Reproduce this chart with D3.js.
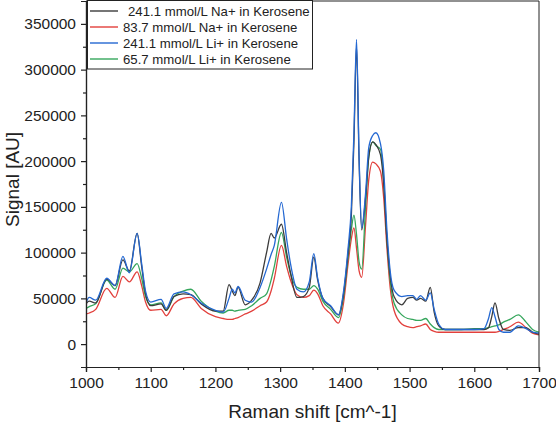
<!DOCTYPE html>
<html>
<head>
<meta charset="utf-8">
<script src="https://cdn.jsdelivr.net/npm/d3@7"></script>
<style>
  body { margin: 0; background: #fff; }
  svg { font-family: "Liberation Sans", Arial, sans-serif; }
  .tick text { fill: #222; }
</style>
</head>
<body>
<div id="main"></div>
<script>
// wavenumber grid shared by all four spectra
let shift = [1000, 1005, 1015, 1032, 1045, 1057, 1067, 1079, 1086, 1092, 1100, 1116, 1124, 1136, 1150, 1162, 1178, 1200, 1212,
  1221, 1226, 1230, 1235, 1246, 1256, 1269, 1279, 1286, 1291, 1302, 1310, 1316, 1326, 1336, 1345, 1352, 1358, 1366, 1378, 1390,
  1398, 1405, 1410, 1414, 1418, 1422, 1426, 1432, 1437, 1443, 1448, 1455, 1460, 1465, 1470, 1476, 1488, 1497, 1505, 1511, 1517,
  1525, 1532, 1538, 1545, 1555, 1580, 1600, 1615, 1622, 1627, 1632, 1638, 1645, 1655, 1668, 1680, 1690, 1700];

let na241 = [44000, 47000, 45000, 71000, 64000, 92000, 80000, 121000, 85000, 55000, 42000, 44000, 37000, 52000, 55000, 54000, 44000, 36000, 36000,
  65000, 58000, 53000, 62000, 43000, 48000, 67000, 100000, 121000, 116000, 131000, 100000, 78000, 51000, 52000, 62000, 95000, 70000, 50000, 41000, 32000,
  55000, 100000, 140000, 220000, 326000, 200000, 125000, 160000, 205000, 221000, 218000, 207000, 175000, 114000, 75000, 52000, 43000, 50000, 51000, 48000, 50000,
  47000, 62000, 35000, 20000, 16000, 16000, 16000, 16000, 18000, 30000, 45000, 28000, 16000, 15000, 18000, 18000, 13000, 11000];

let na83 = [33000, 34000, 38000, 61000, 51000, 74000, 68000, 79000, 64000, 46000, 37000, 38000, 31000, 44000, 50000, 51000, 39000, 30000, 28000,
  27000, 27000, 28000, 29000, 33000, 36000, 42000, 46000, 58000, 72000, 108000, 85000, 70000, 54000, 51000, 53000, 59000, 55000, 42000, 33000, 23000,
  45000, 88000, 115000, 127000, 105000, 80000, 73000, 130000, 180000, 199000, 197000, 189000, 160000, 105000, 62000, 37000, 22000, 19000, 18000, 19000, 20000,
  22000, 16000, 14000, 13000, 13000, 13000, 13000, 13000, 13000, 13000, 13000, 14000, 16000, 19000, 24000, 18000, 12000, 10000];

let li241 = [45000, 51000, 48000, 72000, 64000, 96000, 78000, 121000, 88000, 58000, 46000, 49000, 39000, 55000, 57000, 54000, 45000, 37000, 35000,
  50000, 60000, 56000, 63000, 48000, 46000, 62000, 82000, 98000, 108000, 155000, 115000, 88000, 60000, 57000, 68000, 99000, 72000, 50000, 42000, 32000,
  58000, 105000, 150000, 230000, 333000, 205000, 127000, 165000, 215000, 228000, 231000, 219000, 190000, 125000, 80000, 59000, 52000, 53000, 53000, 49000, 53000,
  48000, 56000, 38000, 22000, 16000, 16000, 16000, 17000, 28000, 40000, 30000, 16000, 13000, 13000, 20000, 17000, 13000, 12000];

let li66 = [39000, 41000, 44000, 70000, 60000, 83000, 79000, 88000, 72000, 52000, 43000, 45000, 37000, 52000, 58000, 60000, 47000, 36000, 34000,
  37000, 37000, 36000, 37000, 38000, 42000, 50000, 55000, 70000, 85000, 122000, 95000, 77000, 62000, 60000, 60000, 64000, 60000, 47000, 38000, 29000,
  52000, 95000, 125000, 141000, 120000, 90000, 82000, 150000, 205000, 221000, 217000, 213000, 180000, 115000, 70000, 45000, 32000, 28000, 27000, 26000, 26000,
  28000, 22000, 18000, 16000, 16000, 16000, 17000, 17000, 18000, 19000, 20000, 21000, 24000, 27000, 32000, 24000, 16000, 13000];

let seriesNames = ['241.1 mmol/L Na+ in Kerosene', '83.7 mmol/L Na+ in Kerosene', '241.1 mmol/L Li+ in Kerosene', '65.7 mmol/L Li+ in Kerosene'];
let seriesValues = [na241, na83, li241, li66];
let seriesColors = ['#3b3b3b', '#e2403c', '#2468d2', '#35a65c'];

let xTicks = [1000, 1100, 1200, 1300, 1400, 1500, 1600, 1700];
let yTicks = [0, 50000, 100000, 150000, 200000, 250000, 300000, 350000];

let width = 556;
let height = 425;
let margin = {left: 86, right: 17, top: 1, bottom: 58};

let svg = d3.select('#main')
  .append('svg')
  .attr('width', width)
  .attr('height', height);

let x = d3.scaleLinear()
  .domain([1000, 1700])
  .range([margin.left, width - margin.right]);

let y = d3.scaleLinear()
  .domain([-25000, 375000])
  .range([height - margin.bottom, margin.top]);

svg.append('clipPath')
  .attr('id', 'plot-clip')
  .append('rect')
  .attr('x', x.range()[0])
  .attr('y', y.range()[1])
  .attr('width', x.range()[1] - x.range()[0])
  .attr('height', y.range()[0] - y.range()[1]);

// spectra, drawn so the blue trace sits on top like in the original
let line = d3.line()
  .x(function(d) { return x(d[0]); })
  .y(function(d) { return y(d[1]); })
  .curve(d3.curveMonotoneX);

let drawOrder = [1, 3, 0, 2];
svg.append('g')
  .attr('clip-path', 'url(#plot-clip)')
  .selectAll('path')
  .data(drawOrder)
  .enter().append('path')
  .attr('fill', 'none')
  .attr('stroke', function(i) { return seriesColors[i]; })
  .attr('stroke-width', 1.3)
  .attr('stroke-linejoin', 'round')
  .attr('d', function(i) {
    return line(shift.map(function(s, k) { return [s, seriesValues[i][k]]; }));
  });

// frame (top and right)
svg.append('path')
  .attr('fill', 'none')
  .attr('stroke', '#222')
  .attr('stroke-width', 1)
  .attr('d', 'M' + x.range()[0] + ',' + y.range()[1] + 'H' + x.range()[1] + 'V' + y.range()[0]);

// minor ticks
let xAxisMinor = d3.axisBottom(x)
  .tickValues(d3.range(1050, 1700, 100))
  .tickSize(3)
  .tickFormat('');
let yAxisMinor = d3.axisLeft(y)
  .tickValues(d3.range(25000, 375000, 50000))
  .tickSize(3)
  .tickFormat('');

svg.append('g')
  .attr('transform', 'translate(0,' + y.range()[0] + ')')
  .call(xAxisMinor);
svg.append('g')
  .attr('transform', 'translate(' + x.range()[0] + ',0)')
  .call(yAxisMinor);

let xAxis = svg.append('g')
  .attr('transform', 'translate(0,' + y.range()[0] + ')')
  .call(d3.axisBottom(x).tickValues(xTicks).tickSize(5).tickPadding(5).tickFormat(d3.format('d')));

let yAxis = svg.append('g')
  .attr('transform', 'translate(' + x.range()[0] + ',0)')
  .call(d3.axisLeft(y).tickValues(yTicks).tickSize(5).tickPadding(5).tickFormat(d3.format('d')));

svg.selectAll('.domain, .tick line')
  .attr('stroke', '#222')
  .attr('stroke-width', 1.2);
svg.selectAll('.tick text')
  .style('font-size', '15.5px')
  .style('font-family', '"Liberation Sans", Arial, sans-serif');

// axis titles
svg.append('text')
  .attr('x', (x.range()[0] + x.range()[1]) / 2)
  .attr('y', 418)
  .attr('text-anchor', 'middle')
  .style('font-size', '19px')
  .attr('fill', '#222')
  .text('Raman shift [cm^-1]');

svg.append('text')
  .attr('transform', 'translate(19,' + y(180000) + ') rotate(-90)')
  .attr('text-anchor', 'middle')
  .style('font-size', '19px')
  .attr('fill', '#222')
  .text('Signal [AU]');

// legend box
let legend = svg.append('g')
  .attr('class', 'legend');

legend.append('rect')
  .attr('x', 87.5)
  .attr('y', 0.5)
  .attr('width', 225)
  .attr('height', 68.5)
  .attr('fill', '#fff')
  .attr('stroke', '#222')
  .attr('stroke-width', 1);

let rows = legend.selectAll('.legend-row')
  .data(d3.range(seriesNames.length))
  .enter().append('g')
  .attr('class', 'legend-row')
  .attr('transform', function(i) { return 'translate(0,' + (11 + i * 16) + ')'; });

rows.append('line')
  .attr('x1', 90)
  .attr('x2', 118)
  .attr('stroke', function(i) { return seriesColors[i]; })
  .attr('stroke-width', 1.4);

rows.append('text')
  .attr('x', function(i) { return i === 0 ? 128 : 123; })
  .attr('y', 5)
  .style('font-size', '13.2px')
  .attr('fill', '#222')
  .text(function(i) { return seriesNames[i]; });
</script>
</body>
</html>
